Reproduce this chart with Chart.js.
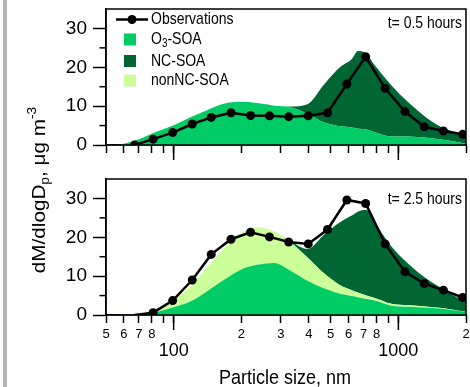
<!DOCTYPE html>
<html><head><meta charset="utf-8">
<script src="https://cdn.jsdelivr.net/npm/chart.js@4.4.0/dist/chart.umd.min.js"></script>
<style>
html,body{margin:0;padding:0;background:#fff;}
#wrap{position:relative;width:470px;height:387px;overflow:hidden;background:#fff;}
canvas{position:absolute;left:0;top:0;}
#bar{position:absolute;left:3px;top:0;width:4px;height:387px;background:#b4b4b4;}
</style></head><body>
<div id="wrap"><div id="bar"></div>
<canvas id="cTop" width="470" height="387"></canvas>
<canvas id="cBot" width="470" height="387"></canvas></div>
<script>
// ---------- data ----------
const modelSizes = [55, 60, 70, 84, 100, 118, 140, 167, 198, 235, 280, 331, 394, 469, 554, 620, 661, 720, 785, 930, 1107, 1316, 1557, 1856, 2000];
const topO3    = [0, 0.3, 1.5, 3.4, 5.1, 7.1, 8.9, 10.6, 11.1, 10.8, 10.1, 9.7, 8.0, 5.8, 4.8, 4.5, 4.2, 4.0, 3.3, 2.2, 2.2, 1.9, 1.4, 0.7, 0.3];
const topNC    = [0, 0, 0, 0, 0, 0, 0, 0, 0, 0, 0, 0.2, 2.5, 9.9, 15.4, 17.6, 20.0, 19.5, 17.2, 13.2, 8.8, 5.4, 3.2, 2.3, 1.7];
const botO3    = [0, 0, 0.1, 0.8, 2.0, 3.4, 6.0, 9.0, 11.6, 12.9, 13.4, 11.4, 8.8, 6.8, 5.4, 4.9, 4.6, 4.1, 3.7, 2.4, 2.1, 1.9, 1.6, 1.0, 0.7];
const botNonNC = [0, 0.1, 0.1, 0.7, 1.9, 3.9, 6.0, 8.1, 9.4, 9.7, 8.1, 7.3, 6.0, 3.8, 2.2, 1.5, 1.2, 0.9, 0.7, 0.5, 0.4, 0.3, 0.2, 0.1, 0.1];
const botNC    = [0, 0, 0, 0, 0, 0, 0, 0, 0, 0, 0, 0.3, 2.2, 10.2, 16.4, 19.2, 20.8, 22.0, 19.4, 14.8, 10.7, 7.4, 5.1, 3.2, 2.6];
const obsSizes = [67, 81, 99, 121, 147, 180, 220, 267, 325, 397, 484, 590, 715, 873, 1070, 1304, 1587, 1933];
const topObs   = [0, 1.5, 3.2, 5.4, 7.1, 8.3, 7.6, 7.5, 7.3, 7.5, 8.3, 15.7, 22.7, 14.6, 8.6, 4.7, 3.6, 2.75];
const botObs   = [0, 0.6, 3.7, 9.0, 15.6, 19.5, 21.3, 20.1, 18.8, 18.3, 22.0, 29.6, 28.7, 18.3, 11.1, 8.1, 6.4, 4.5];
const xTickValues = [50, 60, 70, 80, 90, 100, 200, 300, 400, 500, 600, 700, 800, 900, 1000, 2000];
const xTickLabels = ['5', '6', '7', '8', '', '100', '2', '3', '4', '5', '6', '7', '8', '', '1000', '2'];
const xMajorTicks = [100, 1000];
const yMajorTicks = [0, 10, 20, 30];
const yMinorTicks = [5, 15, 25];
const legendLabels = ['Observations', 'O3-SOA', 'NC-SOA', 'nonNC-SOA'];
const panelLabels = ['t= 0.5 hours', 't= 2.5 hours'];
const xTitle = 'Particle size, nm';

// ---------- style ----------
const FONT = '"Liberation Sans", Arial, sans-serif';
const C_O3 = '#00cc66', C_NC = '#006633', C_NON = '#ccff99';
const legendColors = [null, C_O3, C_NC, C_NON];

function pts(xs, ys) { return xs.map((x, i) => ({x: x, y: ys[i]})); }
function area(label, xs, ys, color, fill) {
  return {label, data: pts(xs, ys), backgroundColor: color, borderColor: color, borderWidth: 0,
    fill, pointRadius: 0, stack: 'model', order: 1, tension: 0.4, cubicInterpolationMode: 'monotone'};
}
function obs(ys, hideFirst) {
  return {label: 'Observations', data: pts(obsSizes, ys), borderColor: '#000', backgroundColor: '#000',
    borderWidth: 2.5, pointRadius: c => (hideFirst && c.dataIndex === 0) ? 0 : 4.5,
    pointBackgroundColor: '#000', pointBorderWidth: 0, fill: false, tension: 0, stack: 'obs', order: 0};
}
function sText(ctx, text, x, y, size, align, sy, baseline) {
  ctx.save(); ctx.translate(x, y); ctx.scale(1, sy);
  ctx.font = size + 'px ' + FONT; ctx.textAlign = align; ctx.textBaseline = baseline || 'middle';
  ctx.fillStyle = '#000'; ctx.fillText(text, 0, 0); ctx.restore();
}
function seg(ctx, x1, y1, x2, y2) { ctx.beginPath(); ctx.moveTo(x1, y1); ctx.lineTo(x2, y2); ctx.stroke(); }

const framePlugin = {
  id: 'frame',
  afterDraw(chart, args, opts) {
    const ctx = chart.ctx, a = chart.chartArea, sx = chart.scales.x, sy = chart.scales.y;
    ctx.save();
    ctx.strokeStyle = '#000'; ctx.lineWidth = 1.5;
    ctx.strokeRect(a.left, a.top, a.right - a.left, a.bottom - a.top);
    yMinorTicks.forEach(v => { const p = sy.getPixelForValue(v); seg(ctx, a.left - 6.5, p, a.left, p); });
    xMajorTicks.forEach(v => { const p = sx.getPixelForValue(v); seg(ctx, p, a.bottom, p, a.bottom + 15); });
    ctx.restore();
    sText(ctx, opts.label, a.right - 4, opts.labelY, 14, 'right', 1.15);
  }
};

const legendPlugin = {
  id: 'legendBox',
  afterDraw(chart) {
    const ctx = chart.ctx;
    const rowsY = [19.5, 39.5, 61, 80.5];
    ctx.save();
    ctx.strokeStyle = '#000'; ctx.lineWidth = 2.5;
    seg(ctx, 116, rowsY[0], 148, rowsY[0]);
    ctx.fillStyle = '#000'; ctx.beginPath(); ctx.arc(132, rowsY[0], 4.5, 0, Math.PI * 2); ctx.fill();
    for (let i = 1; i < legendLabels.length; i++) {
      ctx.fillStyle = legendColors[i];
      ctx.fillRect(124, rowsY[i] - 6, 12, 12);
    }
    ctx.restore();
    legendLabels.forEach((t, i) => {
      const y = rowsY[i];
      if (/^O3/.test(t)) {
        ctx.save(); ctx.font = '14px ' + FONT;
        const wO = ctx.measureText('O').width;
        sText(ctx, 'O', 151, y, 14, 'left', 1.2);
        ctx.font = '10px ' + FONT;
        const w3 = ctx.measureText('3').width;
        sText(ctx, '3', 151 + wO, y + 4, 10, 'left', 1.2);
        sText(ctx, t.slice(2), 151 + wO + w3, y, 14, 'left', 1.2);
        ctx.restore();
      } else {
        sText(ctx, t, 151, y, 14, 'left', 1.2);
      }
    });
  }
};

const titlesPlugin = {
  id: 'titles',
  afterDraw(chart) {
    const ctx = chart.ctx;
    sText(ctx, xTitle, 285, 384, 18, 'center', 1.15, 'alphabetic');
    const parts = [
      {t: 'dM/dlogD', s: 18, dy: 0},
      {t: 'p', s: 12, dy: 4},
      {t: ', \u03bcg m', s: 18, dy: 0},
      {t: '-3', s: 12, dy: -9}
    ];
    ctx.save();
    ctx.translate(45, 190); ctx.rotate(-Math.PI / 2); ctx.scale(1.15, 1);
    ctx.fillStyle = '#000'; ctx.textBaseline = 'alphabetic'; ctx.textAlign = 'left';
    let total = 0;
    parts.forEach(p => { ctx.font = p.s + 'px ' + FONT; p.w = ctx.measureText(p.t).width; total += p.w; });
    let x = -total / 2;
    parts.forEach(p => { ctx.font = p.s + 'px ' + FONT; ctx.fillText(p.t, x, p.dy); x += p.w; });
    ctx.restore();
  }
};

function makeOptions(padTop, xHeight, showLabels, label, labelY) {
  return {
    responsive: false, animation: false, devicePixelRatio: 1,
    layout: {padding: {top: padTop, right: 4, left: 0, bottom: 0}, autoPadding: false},
    plugins: {legend: {display: false}, tooltip: {enabled: false}, frame: {label, labelY}},
    scales: {
      x: {
        type: 'logarithmic', min: 50, max: 2000,
        afterBuildTicks: s => { s.ticks = xTickValues.map(v => ({value: v, major: xMajorTicks.includes(v)})); },
        ticks: {
          display: showLabels, autoSkip: false, maxRotation: 0, minRotation: 0, padding: 2, color: '#000',
          callback: (v, i) => xTickLabels[i],
          font: c => (c.tick && c.tick.major) ? {family: FONT, size: 18, lineHeight: 52 / 18} : {family: FONT, size: 13, lineHeight: 18 / 13}
        },
        grid: {drawOnChartArea: false, drawTicks: true, tickLength: 8, tickColor: '#000', tickWidth: 1.5},
        border: {display: true, color: '#000', width: 1.5},
        afterFit: s => { s.height = xHeight; s.paddingLeft = 0; s.paddingRight = 0; }
      },
      y: {
        type: 'linear', min: 0, max: 35, stacked: true,
        afterBuildTicks: s => { s.ticks = yMajorTicks.map(v => ({value: v})); },
        ticks: {font: {family: FONT, size: 19}, color: '#000', padding: 6},
        grid: {drawOnChartArea: false, drawTicks: true, tickLength: 13, tickColor: '#000', tickWidth: 1.5},
        border: {display: true, color: '#000', width: 1.5},
        afterFit: s => { s.width = 106; s.paddingTop = 0; s.paddingBottom = 0; }
      }
    }
  };
}

new Chart(document.getElementById('cTop'), {
  type: 'line',
  data: {datasets: [
    area('O3-SOA', modelSizes, topO3, C_O3, 'origin'),
    area('NC-SOA', modelSizes, topNC, C_NC, '-1'),
    obs(topObs, false)
  ]},
  options: makeOptions(9, 242, false, panelLabels[0], 24),
  plugins: [framePlugin, legendPlugin]
});

new Chart(document.getElementById('cBot'), {
  type: 'line',
  data: {datasets: [
    area('O3-SOA', modelSizes, botO3, C_O3, 'origin'),
    area('nonNC-SOA', modelSizes, botNonNC, C_NON, '-1'),
    area('NC-SOA', modelSizes, botNC, C_NC, '-1'),
    obs(botObs, true)
  ]},
  options: makeOptions(179, 72, true, panelLabels[1], 200),
  plugins: [framePlugin, titlesPlugin]
});
</script>
</body></html>
